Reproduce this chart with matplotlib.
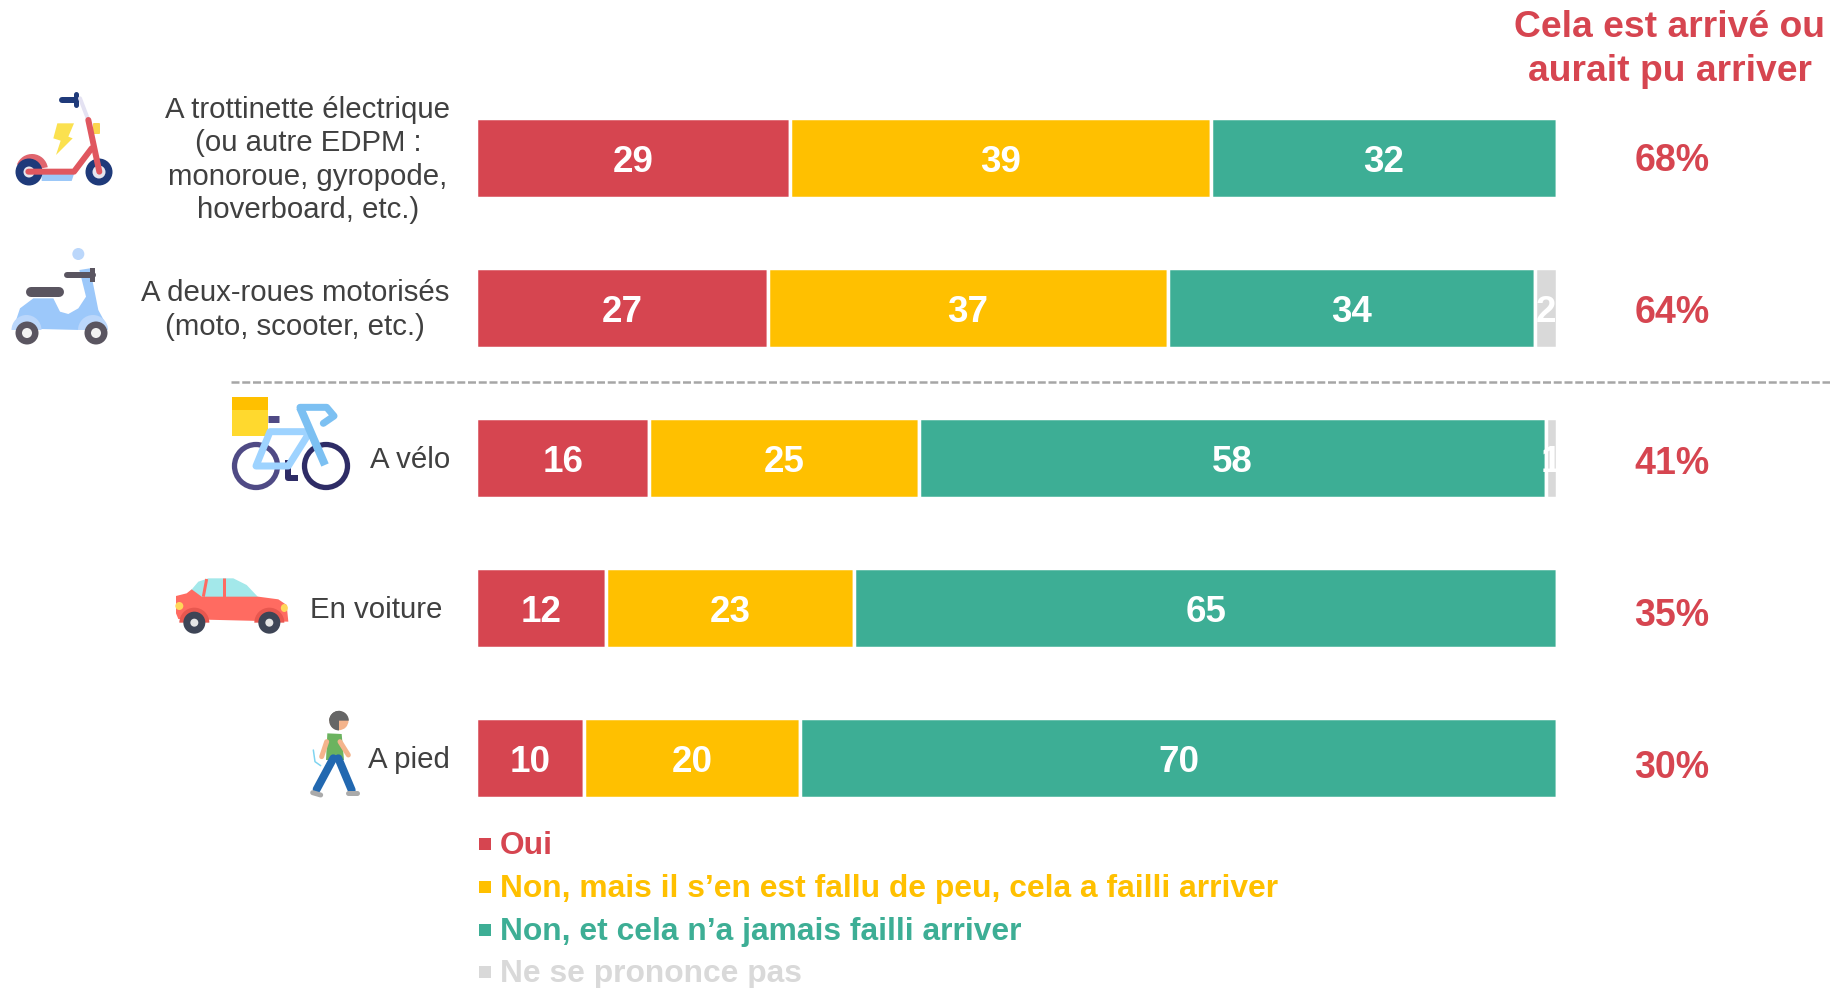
import matplotlib
matplotlib.use('Agg')
import numpy as np
import matplotlib.pyplot as plt
from matplotlib.patches import Circle, Polygon, Rectangle, FancyBboxPatch, Ellipse, Wedge

plt.rcParams['font.family'] = ['Liberation Sans', 'DejaVu Sans']

# data
categories = ['A trottinette électrique\n(ou autre EDPM :\nmonoroue, gyropode,\nhoverboard, etc.)',
              'A deux-roues motorisés\n(moto, scooter, etc.)',
              'A vélo', 'En voiture', 'A pied']
oui = [29, 27, 16, 12, 10]
failli = [39, 37, 25, 23, 20]
jamais = [32, 34, 58, 65, 70]
nsp = [0, 2, 1, 0, 0]
total_arrive = ['68%', '64%', '41%', '35%', '30%']
legend_labels = ['Oui', 'Non, mais il s’en est fallu de peu, cela a failli arriver',
                 'Non, et cela n’a jamais failli arriver', 'Ne se prononce pas']
header = 'Cela est arrivé ou\naurait pu arriver'

RED = '#D64550'
YELLOW = '#FFC000'
GREEN = '#3DAE95'
GREY = '#D9D9D9'
colors = [RED, YELLOW, GREEN, GREY]
TXT = '#404040'

W, H = 1831, 988
fig = plt.figure(figsize=(W / 100, H / 100), dpi=100)

# axes placed so that one row = 150 px and 100 % = 1080.5 px
ax = fig.add_axes([476.25 / W, 1 - 833 / H, 1080.5 / W, 750 / H])
ax.set_xlim(0, 100)
ax.set_ylim(4.5, -0.5)
ax.axis('off')

y = np.arange(len(categories))
left = np.zeros(len(categories))
for vals, c in zip([oui, failli, jamais, nsp], colors):
    vals = np.array(vals)
    ax.barh(y, vals, left=left, height=0.53, color=c, edgecolor='white', linewidth=2.5)
    for i, v in enumerate(vals):
        if v > 0:
            ax.text(left[i] + v / 2, i + 0.028, str(v), ha='center', va='center', color='white',
                    fontsize=26.5, fontweight='bold', clip_on=True)
    left = left + vals

# overlay in pixel coordinates for texts and icons
ov = fig.add_axes([0, 0, 1, 1])
ov.set_xlim(0, W)
ov.set_ylim(H, 0)
ov.axis('off')
ov.patch.set_alpha(0)

label_x = [308, 295, 450, 442, 450]
label_ha = ['center', 'center', 'right', 'right', 'right']
for i, lab in enumerate(categories):
    ov.text(label_x[i], 160 + i * 150, lab, ha=label_ha[i], va='center', multialignment='center',
            fontsize=21.2, color=TXT, linespacing=1.25)

for i, t in enumerate(total_arrive):
    ov.text(1672, 161 + i * 151.7, t, ha='center', va='center', color=RED, fontsize=27, fontweight='bold')

ov.text(1670, 49.5, header, ha='center', va='center', color=RED, fontsize=26.8, fontweight='bold',
        linespacing=1.34)

# dashed separator
ov.plot([231, W], [382, 382], color='#A6A6A6', lw=1.8, dashes=(3.2, 1.1))

# legend
for yy, lab, c in zip([844, 887, 930, 972], legend_labels, colors):
    ov.add_patch(Rectangle((479, yy - 6), 12, 12, color=c, lw=0))
    ov.text(500, yy + 1.5, lab, ha='left', va='center', color=c, fontsize=22.9, fontweight='bold')


# icons
def line(pts, c, w, cap='round'):
    pts = np.array(pts)
    ov.plot(pts[:, 0], pts[:, 1], color=c, lw=w * 0.72, solid_capstyle=cap, solid_joinstyle='round')


def wheel(x, yy, r, c, inner_r, inner='white'):
    ov.add_patch(Circle((x, yy), r, color=c, lw=0))
    ov.add_patch(Circle((x, yy), inner_r, color=inner, lw=0))


def zoom1(pts):
    return [(a / 3, 70 + b / 3) for a, b in pts]


def zoom2(pts):
    return [(150 + a / 3, 380 + b / 3) for a, b in pts]


# trottinette
line(zoom1([(185, 90), (228, 90)]), '#1F3A7A', 6)
line(zoom1([(228, 72), (228, 106)]), '#1F3A7A', 5)
line(zoom1([(240, 85), (265, 150)]), '#E4E2F2', 4)
ov.add_patch(Polygon(zoom1([(125, 312), (222, 312), (215, 333), (125, 333)]), color='#9CC8F8', lw=0))
ov.add_patch(Wedge((32, 170), 16, 200, 350, color='#E0656E', lw=0))
wheel(29, 172, 13.5, '#1F3A7A', 5.5, '#E6E6EE')
wheel(99, 172, 13.5, '#1F3A7A', 6.5, '#E6E6EE')
line(zoom1([(85, 305), (222, 305), (275, 235)]), '#E0575F', 6)
line(zoom1([(265, 150), (298, 305)]), '#E0575F', 6)
ov.add_patch(Polygon(zoom1([(172, 160), (222, 160), (205, 200), (218, 205), (168, 255), (182, 212), (160, 205)]),
                     color='#FBE14F', lw=0))
ov.add_patch(FancyBboxPatch((94, 124), 5, 9, boxstyle='round,pad=1', color='#FBD54F', lw=0))

# moto
ov.add_patch(Polygon(zoom1([(40, 775), (60, 715), (100, 685), (160, 685), (180, 725), (205, 732), (235, 715),
                            (258, 680), (238, 600), (270, 595), (295, 720), (322, 770), (240, 780)]),
                     color='#9CC8FA', lw=0))
ov.add_patch(Wedge((26.5, 330), 15, 180, 360, color='#BBD7FB', lw=0))
ov.add_patch(Wedge((93, 330), 15, 180, 360, color='#BBD7FB', lw=0))
wheel(27, 333, 11.5, '#5A5560', 5, '#F2F2F2')
wheel(96, 333, 11.5, '#5A5560', 5, '#F2F2F2')
line(zoom1([(92, 666), (178, 666)]), '#5A5560', 10)
line(zoom1([(200, 615), (280, 615)]), '#5A5560', 6)
ov.add_patch(Rectangle((90, 268), 5, 14, color='#5A5560', lw=0))
ov.add_patch(Circle(zoom1([(235, 552)])[0], 6, color='#BBD7FB', lw=0))

# velo
ov.add_patch(Circle((256, 466), 21.5, fill=False, ec='#4F4A85', lw=3.8))
ov.add_patch(Circle((326, 466), 21.5, fill=False, ec='#2E2C66', lw=3.8))
line(zoom2([(354, 117), (388, 117)]), '#4F4A85', 7, 'butt')
line(zoom2([(415, 240), (415, 295), (445, 295)]), '#2E2C66', 6, 'butt')
line(zoom2([(480, 155), (360, 155), (318, 258), (415, 258), (480, 155)]), '#9ED3FF', 7)
line(zoom2([(450, 82), (525, 255)]), '#7CC0F2', 8, 'butt')
line(zoom2([(450, 82), (530, 82), (552, 108), (520, 130)]), '#7CC0F2', 7)
ov.add_patch(Rectangle((232, 397), 36, 39, color='#FFD92E', lw=0))
ov.add_patch(Rectangle((232, 397), 36, 13, color=YELLOW, lw=0))

# voiture
ov.add_patch(Polygon(zoom2([(122, 632), (145, 605), (175, 595), (250, 595), (290, 615), (325, 652), (155, 652)]),
                     color='#A3E8EA', lw=0))
line(zoom2([(170, 597), (160, 650)]), '#FF6B61', 3, 'butt')
line(zoom2([(223, 595), (223, 650)]), '#FF6B61', 3, 'butt')
ov.add_patch(Polygon(zoom2([(78, 648), (110, 640), (125, 628), (155, 650), (325, 650), (385, 658), (410, 675),
                            (415, 725), (85, 717), (78, 700)]), color='#FF6B61', lw=0))
ov.add_patch(Ellipse(zoom2([(88, 678)])[0], 8, 8, color='#FFD75A', lw=0))
ov.add_patch(Ellipse(zoom2([(403, 684)])[0], 7, 8, color='#FFD75A', lw=0))
ov.add_patch(Wedge(zoom2([(133, 728)])[0], 15, 180, 360, color='#E8574F', lw=0))
ov.add_patch(Wedge(zoom2([(358, 728)])[0], 15, 180, 360, color='#E8574F', lw=0))
wheel(*zoom2([(133, 728)])[0], 11, '#3E4556', 4, '#E5E5E5')
wheel(*zoom2([(358, 728)])[0], 11, '#3E4556', 4, '#E5E5E5')

# pieton
line(zoom2([(550, 1135), (500, 1228)]), '#2268B0', 8)
line(zoom2([(565, 1135), (605, 1230)]), '#2268B0', 8)
line(zoom2([(488, 1238), (512, 1245)]), '#AAAAAA', 5)
line(zoom2([(595, 1240), (622, 1240)]), '#AAAAAA', 5)
line(zoom2([(570, 1085), (595, 1125)]), '#F4B48C', 5)
line(zoom2([(530, 1085), (515, 1130)]), '#F4B48C', 5)
ov.add_patch(Polygon(zoom2([(532, 1060), (575, 1062), (582, 1140), (528, 1140)]), color='#6BB35F', lw=0))
ov.add_patch(Circle(zoom2([(567, 1022)])[0], 9.5, color='#F4B48C', lw=0))
ov.add_patch(Wedge(zoom2([(567, 1022)])[0], 9.8, 90, 280, color='#666666', lw=0))
ov.add_patch(Wedge(zoom2([(567, 1022)])[0], 9.8, 180, 360, color='#666666', lw=0))
line(zoom2([(490, 1110), (495, 1145), (512, 1157)]), '#7FD4F0', 1.5)

fig.savefig('out.png', dpi=100)
